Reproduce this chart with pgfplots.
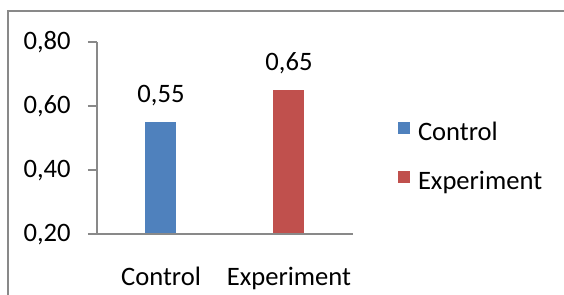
\documentclass[border=0pt]{standalone}
\usepackage{pgfplots}
\pgfplotsset{compat=1.18}
\usepackage{fontspec}
\setmainfont{Carlito}
\definecolor{ctrl}{HTML}{4F81BD}
\definecolor{expc}{HTML}{C0504D}
\definecolor{axgray}{HTML}{898989}
\begin{document}
\fontsize{13.3}{16}\selectfont
\begin{tikzpicture}
\path[use as bounding box] (0,0) rectangle (282pt,147.5pt);
\draw[axgray, line width=1pt] (4pt,0) -- (4pt,141.75pt) -- (282pt,141.75pt);
\begin{axis}[
  at={(48.5pt,30.25pt)}, anchor=south west,
  scale only axis, width=128pt, height=96pt,
  xmin=-0.5, xmax=1.5, ymin=0.2, ymax=0.8,
  /pgf/number format/assume math mode=true,
  axis lines=left,
  axis line style={-, axgray, line width=1pt},
  axis on top,
  xtick={0,1}, xticklabels={Control,Experiment},
  x tick style={draw=none},
  major x tick style={draw=none},
  xticklabel style={anchor=base, yshift=-21pt, inner sep=0pt},
  ytick={0.2,0.4,0.6,0.8},
  tick align=outside,
  y tick style={axgray, line width=1pt},
  major tick length=4.5pt,
  yticklabel style={anchor=base east, inner sep=0pt, xshift=-8.5pt, yshift=-3.6pt,
    /pgf/number format/.cd, fixed, fixed zerofill, precision=2, use comma},
  ybar, bar width=15.5pt, bar shift=0pt,
  nodes near coords,
  nodes near coords style={anchor=base, yshift=9.75pt, inner sep=0pt,
    /pgf/number format/.cd, fixed, fixed zerofill, precision=2, use comma},
  legend cell align=left,
  legend style={at={(1.1758,0.586)}, anchor=north west, draw=none, fill=none,
    inner sep=0pt, outer sep=0pt, row sep=12pt, column sep=4pt,
    nodes={inner sep=0pt, text height=9pt, text depth=3pt}},
  legend image code/.code={\fill[#1] (0pt,0.3pt) rectangle (6pt,6.3pt);},
]
\addplot[fill=ctrl, draw=none] coordinates {(0,0.55)};
\addlegendentry{Control}
\addplot[fill=expc, draw=none] coordinates {(1,0.65)};
\addlegendentry{Experiment}
\end{axis}
\end{tikzpicture}
\end{document}
